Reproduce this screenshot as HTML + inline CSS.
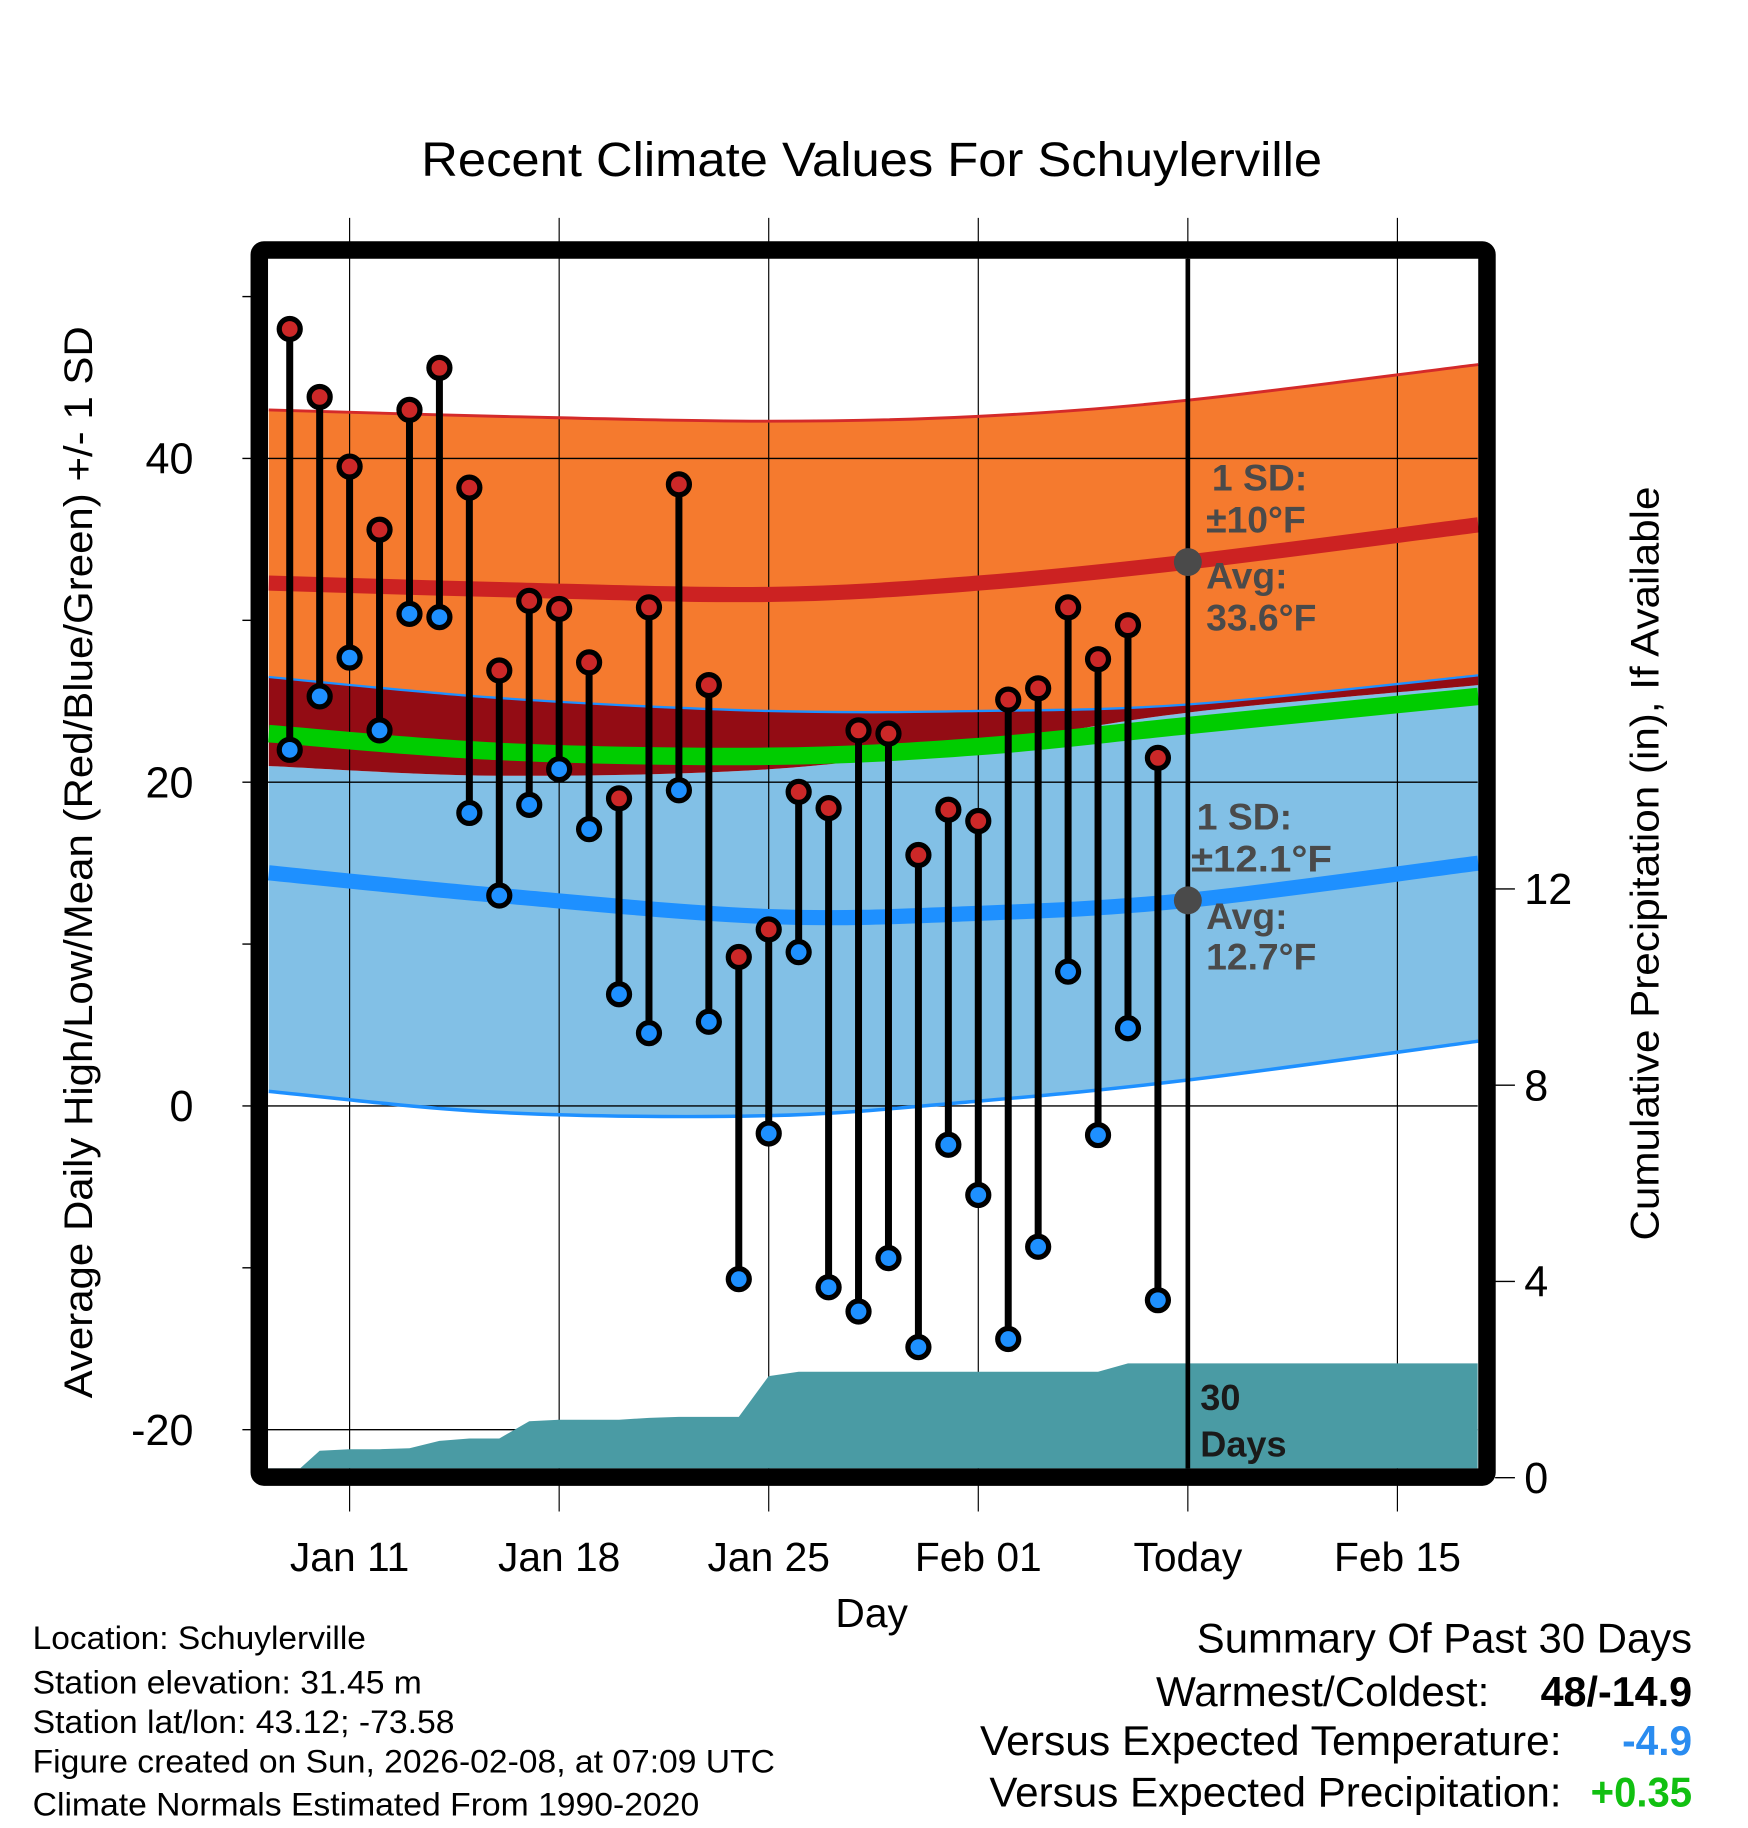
<!DOCTYPE html>
<html><head><meta charset="utf-8"><title>Recent Climate Values For Schuylerville</title>
<style>
html,body{margin:0;padding:0;background:#fff;}
svg{display:block;font-family:"Liberation Sans",Arial,sans-serif;}
</style></head>
<body>
<svg id="chart" width="1748" height="1828" viewBox="0 0 1500 1568.6" preserveAspectRatio="none" xmlns="http://www.w3.org/2000/svg">
<g id="layer-fills"></g>
<g id="layer-grid"></g>
<g id="layer-lines"></g>
<g id="layer-precip"></g>
<g id="layer-points"></g>
<g id="layer-axes"></g>
<text x="748" y="151" font-size="41" text-anchor="middle" textLength="773" lengthAdjust="spacingAndGlyphs">Recent Climate Values For Schuylerville</text>
<text transform="translate(79,740) rotate(-90)" font-size="34" text-anchor="middle" textLength="920" lengthAdjust="spacingAndGlyphs">Average Daily High/Low/Mean (Red/Blue/Green) +/- 1 SD</text>
<text transform="translate(1423,741) rotate(-90)" font-size="34" text-anchor="middle" textLength="647" lengthAdjust="spacingAndGlyphs">Cumulative Precipitation (in), If Available</text>
<text x="748" y="1396" font-size="35" text-anchor="middle">Day</text>
<g fill="#4a4a4a" font-weight="bold" font-size="32">
<text x="1040" y="421">1 SD:</text>
<text x="1035" y="457">±10°F</text>
<text x="1035" y="505">Avg:</text>
<text x="1035" y="541">33.6°F</text>
</g>
<g fill="#4a4a4a" font-weight="bold" font-size="32">
<text x="1027" y="712">1 SD:</text>
<text x="1022" y="748" textLength="121" lengthAdjust="spacingAndGlyphs">±12.1°F</text>
<text x="1035" y="797">Avg:</text>
<text x="1035" y="832">12.7°F</text>
</g>
<g fill="#1a1a1a" font-weight="bold" font-size="31">
<text x="1030" y="1210">30</text>
<text x="1030" y="1250">Days</text>
</g>
<g font-size="28">
<text x="28" y="1415" textLength="286" lengthAdjust="spacingAndGlyphs">Location: Schuylerville</text>
<text x="28" y="1453" textLength="334" lengthAdjust="spacingAndGlyphs">Station elevation: 31.45 m</text>
<text x="28" y="1487" textLength="362" lengthAdjust="spacingAndGlyphs">Station lat/lon: 43.12; -73.58</text>
<text x="28" y="1521" textLength="637" lengthAdjust="spacingAndGlyphs">Figure created on Sun, 2026-02-08, at 07:09 UTC</text>
<text x="28" y="1558" textLength="572" lengthAdjust="spacingAndGlyphs">Climate Normals Estimated From 1990-2020</text>
</g>
<g font-size="36">
<text x="1452" y="1418" text-anchor="end" textLength="425" lengthAdjust="spacingAndGlyphs">Summary Of Past 30 Days</text>
<text x="1278" y="1464" text-anchor="end" textLength="286" lengthAdjust="spacingAndGlyphs">Warmest/Coldest:</text>
<text x="1452" y="1464" text-anchor="end" font-weight="bold" textLength="130" lengthAdjust="spacingAndGlyphs">48/-14.9</text>
<text x="1340" y="1506" text-anchor="end" textLength="499" lengthAdjust="spacingAndGlyphs">Versus Expected Temperature:</text>
<text x="1452" y="1506" text-anchor="end" font-weight="bold" fill="#2a8cf0" textLength="60" lengthAdjust="spacingAndGlyphs">-4.9</text>
<text x="1340" y="1550" text-anchor="end" textLength="491" lengthAdjust="spacingAndGlyphs">Versus Expected Precipitation:</text>
<text x="1452" y="1550" text-anchor="end" font-weight="bold" fill="#11c011" textLength="87" lengthAdjust="spacingAndGlyphs">+0.35</text>
</g>
</svg>
<script>
// ---- data ----
const dayLabels = ["Jan 11","Jan 18","Jan 25","Feb 01","Today","Feb 15"];
const dayTicks = [0,7,14,21,28,35];
const tempTicks = [-20,0,20,40];
const tempMinorTicks = [-10,10,30,50];
const precipTicks = [0,4,8,12];
// observed days relative to Jan 11 (Jan 9 .. Feb 7)
const obsDays = [-2,-1,0,1,2,3,4,5,6,7,8,9,10,11,12,13,14,15,16,17,18,19,20,21,22,23,24,25,26,27];
const highs = [48,43.8,39.5,35.6,43.0,45.6,38.2,26.9,31.2,30.7,27.4,19.0,30.8,38.4,26.0,9.2,10.9,19.4,18.4,23.2,23.0,15.5,18.3,17.6,25.1,25.8,30.8,27.6,29.7,21.5];
const lows = [22.0,25.3,27.7,23.2,30.4,30.2,18.1,13.0,18.6,20.8,17.1,6.9,4.5,19.5,5.2,-10.7,-1.7,9.5,-11.2,-12.7,-9.4,-14.9,-2.4,-5.5,-14.4,-8.7,8.3,-1.8,4.8,-12.0];
const precip = [0,0.55,0.58,0.58,0.6,0.75,0.8,0.8,1.15,1.18,1.18,1.18,1.22,1.24,1.24,1.24,2.07,2.16,2.16,2.16,2.16,2.16,2.16,2.16,2.16,2.16,2.16,2.16,2.33,2.33];
// climate normals sampled at these days
const normDays = [-2.7,5,14,21,28,37.7];
const hiUpper = [43.0,42.6,42.3,42.6,43.6,45.8];
const hiAvg = [32.3,31.9,31.6,32.3,33.6,35.9];
const hiLower = [26.5,25.2,24.4,24.4,24.8,26.6];
const meanAvg = [23.0,21.9,21.6,22.2,23.5,25.3];
const loUpper = [21.0,20.4,20.8,22.3,24.3,26.0];
const loAvg = [14.4,13.0,11.7,11.9,12.7,15.0];
const loLower = [0.9,-0.4,-0.6,0.3,1.6,4.0];

// ---- scales ----
const PL=230, PR=1268, PT=222, PB=1260;
const X = d => 300 + d*25.69;
const Y = v => 949 - v*13.89;
const YP = p => 1268 - p*42.1;
const NS="http://www.w3.org/2000/svg";
function mk(tag, attrs, parent){const e=document.createElementNS(NS,tag);for(const k in attrs)e.setAttribute(k,attrs[k]);parent.appendChild(e);return e;}
function pts(vals){return normDays.map((d,i)=>[X(d),Y(vals[i])]);}
function smooth(p){let s="M"+p[0][0]+","+p[0][1];for(let i=0;i<p.length-1;i++){const p0=p[i-1]||p[i],p1=p[i],p2=p[i+1],p3=p[i+2]||p2;
 const c1=[p1[0]+(p2[0]-p0[0])/6,p1[1]+(p2[1]-p0[1])/6],c2=[p2[0]-(p3[0]-p1[0])/6,p2[1]-(p3[1]-p1[1])/6];
 s+=" C"+c1[0]+","+c1[1]+" "+c2[0]+","+c2[1]+" "+p2[0]+","+p2[1];}return s;}
function band(up,lo){const a=pts(up),b=pts(lo).reverse();const sb=smooth(b);return smooth(a)+" L"+sb.slice(1)+" Z";}

const fills=document.getElementById('layer-fills');
let e;
e=mk('path',{d:band(hiUpper,hiLower),fill:'#f57a2e'},fills);


e=mk('path',{d:band(loUpper,loLower),fill:'#82c0e6'},fills);


e=mk('path',{d:band(hiLower,loUpper),fill:'#930c14'},fills);



const grid=document.getElementById('layer-grid');
dayTicks.forEach(d=>{e=mk('line',{x1:X(d),x2:X(d),y1:187,y2:1297,stroke:'#000','stroke-width':1},grid);

});
tempTicks.forEach(v=>{e=mk('line',{x1:208,x2:PR,y1:Y(v),y2:Y(v),stroke:'#000','stroke-width':1.2},grid);

});

const lines=document.getElementById('layer-lines');
[[hiUpper,'#d42a2a',2.5,'high-upper-line'],[hiLower,'#1e90ff',2,'high-lower-line'],[loLower,'#1e90ff',3,'low-lower-line'],
 [meanAvg,'#00cc00',15,'mean-normal-line'],[hiAvg,'#cc2222',13,'high-normal-line'],[loAvg,'#1e90ff',13,'low-normal-line']].forEach(c=>{
 e=mk('path',{d:smooth(pts(c[0])),fill:'none',stroke:c[1],'stroke-width':c[2]},lines);
 
 });

const pg=document.getElementById('layer-precip');
let pd="M"+PL+","+PB+" L"+X(obsDays[0])+","+YP(precip[0]);
obsDays.forEach((d,i)=>{pd+=" L"+X(d)+","+YP(precip[i]);});
pd+=" L"+PR+","+YP(precip[precip.length-1])+" L"+PR+","+PB+" Z";
e=mk('path',{d:pd,fill:'#4a9ba4'},pg);



const pt=document.getElementById('layer-points');
obsDays.forEach((d,i)=>{
 e=mk('line',{x1:X(d),x2:X(d),y1:Y(highs[i]),y2:Y(lows[i]),stroke:'#000','stroke-width':6},pt);
 
 
 e=mk('circle',{cx:X(d),cy:Y(highs[i]),r:9,fill:'#cc2828',stroke:'#000','stroke-width':4.5},pt);
 
 
 e=mk('circle',{cx:X(d),cy:Y(lows[i]),r:9,fill:'#1e90ff',stroke:'#000','stroke-width':4.5},pt);
 
 
});

const ax=document.getElementById('layer-axes');
e=mk('line',{x1:X(28),x2:X(28),y1:PT,y2:PB,stroke:'#000','stroke-width':4},ax);


e=mk('circle',{cx:X(28),cy:Y(33.6),r:12,fill:'#4a4a4a'},ax);


e=mk('circle',{cx:X(28),cy:Y(12.7),r:12,fill:'#4a4a4a'},ax);


e=mk('rect',{x:222.5,y:214.5,width:1053.5,height:1053,fill:'none',stroke:'#000','stroke-width':15,rx:4},ax);


tempTicks.forEach(v=>{
 e=mk('text',{x:166,y:Y(v)+13,'font-size':37,'text-anchor':'end'},ax);e.textContent=v;
 
 });
tempMinorTicks.forEach(v=>{e=mk('line',{x1:208,x2:216,y1:Y(v),y2:Y(v),stroke:'#000','stroke-width':1.2},ax);
 
 });
precipTicks.forEach(p=>{
 e=mk('line',{x1:1283,x2:1300,y1:YP(p),y2:YP(p),stroke:'#000','stroke-width':1.2},ax);
 
 
 e=mk('text',{x:1308,y:YP(p)+13,'font-size':37},ax);e.textContent=p;
 
 });
dayTicks.forEach((d,i)=>{
 e=mk('text',{x:X(d),y:1348,'font-size':35,'text-anchor':'middle'},ax);e.textContent=dayLabels[i];
 
 });
</script>
</body></html>
